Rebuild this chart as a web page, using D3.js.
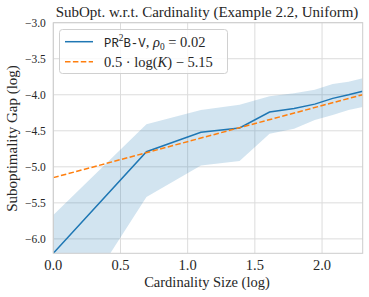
<!DOCTYPE html>
<html>
<head>
<meta charset="utf-8">
<script src="https://cdn.jsdelivr.net/npm/d3@7"></script>
<style>
  body { margin: 0; background: #fff; }
</style>
</head>
<body>
<div id="chart"></div>
<script>
// DATA
var cardinality = [1, 2, 3, 4, 5, 6, 7, 8, 9, 10];
var meanGap  = [-6.20, -4.79, -4.52, -4.46, -4.24, -4.19, -4.13, -4.05, -4.00, -3.95];
var upperGap = [-5.67, -4.41, -4.21, -4.14, -4.02, -3.98, -3.93, -3.85, -3.82, -3.77];
var lowerGap = [-7.43, -5.42, -4.98, -4.92, -4.54, -4.47, -4.35, -4.28, -4.21, -4.17];
var fitSlope = 0.5, fitIntercept = -5.15;
var xTicks = [0.0, 0.5, 1.0, 1.5, 2.0];
var yTicks = [-6.0, -5.5, -5.0, -4.5, -4.0, -3.5, -3.0];

var serif = "'Liberation Serif'";
var mono = "'Liberation Mono'";
var textColor = "#262626";

var svgWidth = 369, svgHeight = 297;
var margins = { top: 22.7, bottom: 43.7, left: 53.3, right: 6.3 };
var width = svgWidth - margins.left - margins.right;
var height = svgHeight - margins.top - margins.bottom;

var svg = d3.select("#chart").append("svg")
    .attr("width", svgWidth)
    .attr("height", svgHeight);

var g = svg.append("g")
    .attr("transform", "translate(" + margins.left + "," + margins.top + ")");

var x = d3.scaleLinear().domain([0, Math.log(10)]).range([0, width]);
var y = d3.scaleLinear().domain([-6.2, -3.0]).range([height, 0]);

// grid
g.append("g").selectAll("line").data(xTicks).join("line")
    .attr("x1", d => x(d)).attr("x2", d => x(d))
    .attr("y1", 0).attr("y2", height)
    .attr("stroke", "#dcdcdc").attr("stroke-width", 1);
g.append("g").selectAll("line").data(yTicks).join("line")
    .attr("x1", 0).attr("x2", width)
    .attr("y1", d => y(d)).attr("y2", d => y(d))
    .attr("stroke", "#dcdcdc").attr("stroke-width", 1);

g.append("clipPath").attr("id", "clip")
    .append("rect").attr("width", width).attr("height", height);

var pts = cardinality.map(function(k, i) {
    return { lx: Math.log(k), mean: meanGap[i], lo: lowerGap[i], hi: upperGap[i] };
});

var plot = g.append("g").attr("clip-path", "url(#clip)");

// band
plot.append("path").datum(pts)
    .attr("fill", "#1f77b4").attr("fill-opacity", 0.2)
    .attr("d", d3.area().x(d => x(d.lx)).y0(d => y(d.lo)).y1(d => y(d.hi)));

// mean line
plot.append("path").datum(pts)
    .attr("fill", "none").attr("stroke", "#1f77b4").attr("stroke-width", 1.5)
    .attr("d", d3.line().x(d => x(d.lx)).y(d => y(d.mean)));

// fit line
var fitPts = [0, Math.log(10)];
plot.append("path").datum(fitPts)
    .attr("fill", "none").attr("stroke", "#ff7f0e").attr("stroke-width", 1.5)
    .attr("stroke-dasharray", "5.5,2.4")
    .attr("d", d3.line().x(d => x(d)).y(d => y(fitSlope * d + fitIntercept)));

// spines
g.append("rect").attr("width", width).attr("height", height)
    .attr("fill", "none").attr("stroke", "#cccccc").attr("stroke-width", 1);

// tick labels
g.append("g").selectAll("text").data(xTicks).join("text")
    .attr("x", d => x(d)).attr("y", height + 17)
    .attr("text-anchor", "middle").attr("fill", textColor)
    .style("font-family", serif).style("font-size", "14.5px")
    .text(d => d3.format(".1f")(d));
g.append("g").selectAll("text").data(yTicks).join("text")
    .attr("x", -7.5).attr("y", d => y(d) + 3.8)
    .attr("text-anchor", "end").attr("fill", textColor)
    .style("font-family", serif).style("font-size", "11.5px")
    .text(d => d3.format(".1f")(d).replace("-", "\u2212"));

// axis labels
svg.append("text").attr("x", 207).attr("y", 287)
    .attr("text-anchor", "middle").attr("fill", textColor)
    .style("font-family", serif).style("font-size", "14.5px")
    .text("Cardinality Size (log)");
svg.append("text")
    .attr("transform", "translate(16.5,138.5) rotate(-90)")
    .attr("text-anchor", "middle").attr("fill", textColor)
    .style("font-family", serif).style("font-size", "15px")
    .text("Suboptimality Gap (log)");

// title
svg.append("text").attr("x", 207).attr("y", 17)
    .attr("text-anchor", "middle").attr("fill", textColor)
    .style("font-family", serif).style("font-size", "15px")
    .text("SubOpt. w.r.t. Cardinality (Example 2.2, Uniform)");

// legend
var legSize = 14.5;
var leg = svg.append("g").attr("transform", "translate(59.5,29.5)");
leg.append("rect").attr("width", 168).attr("height", 44).attr("rx", 3)
    .attr("fill", "#fff").attr("fill-opacity", 0.8)
    .attr("stroke", "#d0d0d0").attr("stroke-width", 1);
leg.append("line").attr("x1", 5.5).attr("x2", 33.5).attr("y1", 12.2).attr("y2", 12.2)
    .attr("stroke", "#1f77b4").attr("stroke-width", 1.5);
leg.append("line").attr("x1", 5.5).attr("x2", 33.5).attr("y1", 32.2).attr("y2", 32.2)
    .attr("stroke", "#ff7f0e").attr("stroke-width", 1.5).attr("stroke-dasharray", "5.5,2.4");

var t1 = leg.append("text").attr("x", 44.5).attr("y", 17).attr("fill", textColor)
    .style("font-family", serif).style("font-size", legSize + "px");
t1.append("tspan").style("font-family", mono).style("font-size", (legSize * 0.85) + "px").text("PR");
t1.append("tspan").style("font-size", (legSize * 0.65) + "px").attr("dy", -6).text("2");
t1.append("tspan").style("font-family", mono).style("font-size", (legSize * 0.85) + "px").attr("dy", 6).text("B-V");
t1.append("tspan").text(", ");
t1.append("tspan").style("font-style", "italic").text("\u03C1");
t1.append("tspan").style("font-size", (legSize * 0.65) + "px").attr("dy", 3).text("0");
t1.append("tspan").attr("dy", -3).text(" = 0.02");

var t2 = leg.append("text").attr("x", 44.5).attr("y", 37).attr("fill", textColor)
    .style("font-family", serif).style("font-size", legSize + "px");
t2.append("tspan").text("0.5 \u00B7 log(");
t2.append("tspan").style("font-style", "italic").text("K");
t2.append("tspan").text(") \u2212 5.15");
</script>
</body>
</html>
